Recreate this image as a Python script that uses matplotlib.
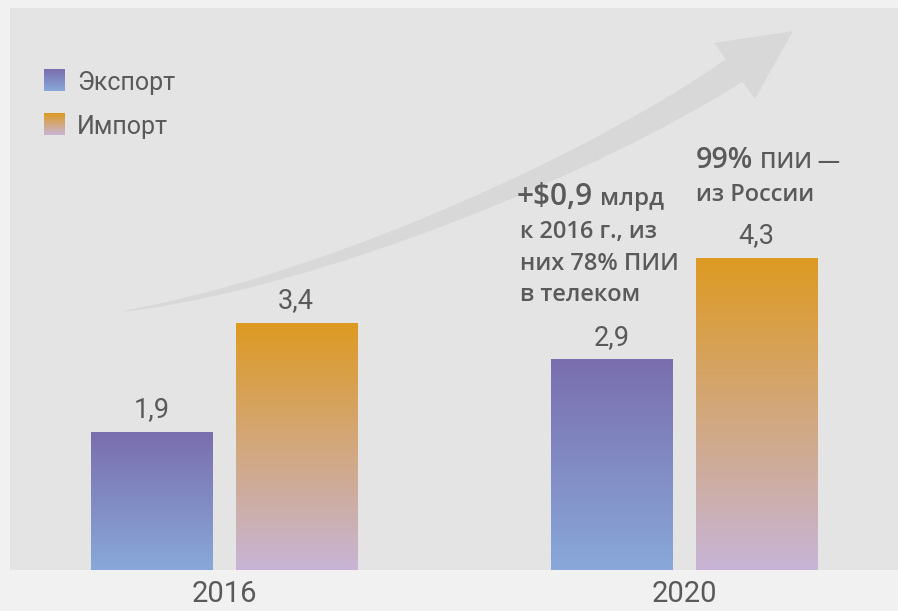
import numpy as np
import matplotlib
matplotlib.use("Agg")
import matplotlib.pyplot as plt
from matplotlib.patches import Polygon, Rectangle

# данные
years = ["2016", "2020"]
export_vals = [1.9, 2.9]
import_vals = [3.4, 4.3]
export_labels = ["1,9", "2,9"]
import_labels = ["3,4", "4,3"]

W, H = 898, 611
TXT = '#5a5a5a'
EXP = ('#7a6eae', '#89a8d9')   # верх, низ
IMP = ('#dd9a22', '#c7b5d7')
NOTE_FONT = ['Open Sans', 'DejaVu Sans']

plt.rcParams['font.family'] = ['Roboto', 'DejaVu Sans']


def grad(top, bottom, n=256):
    c1 = np.array(matplotlib.colors.to_rgb(top))
    c2 = np.array(matplotlib.colors.to_rgb(bottom))
    s = np.linspace(0, 1, n)[:, None]
    return (c1 * (1 - s) + c2 * s)[:, None, :]


fig = plt.figure(figsize=(W / 100, H / 100), dpi=100, facecolor='#f1f1f1')

# фон и декор в пикселях
bg = fig.add_axes([0, 0, 1, 1], zorder=0)
bg.axis('off')
bg.add_patch(Rectangle((10, 8), W - 10, 562, color='#e4e4e4', lw=0, zorder=0))

# изогнутая стрелка
t = np.linspace(0, 1, 200)
P = np.array([[125, 311], [330, 280], [600, 160], [735, 70]], dtype=float)
curve = (((1 - t) ** 3)[:, None] * P[0] + (3 * (1 - t) ** 2 * t)[:, None] * P[1]
         + (3 * (1 - t) * t ** 2)[:, None] * P[2] + (t ** 3)[:, None] * P[3])
d = np.gradient(curve, axis=0)
nrm = np.stack([-d[:, 1], d[:, 0]], axis=1)
nrm /= np.linalg.norm(nrm, axis=1)[:, None]
hw = 0.5 + 13.5 * t ** 0.9
body = np.vstack([curve + nrm * hw[:, None], (curve - nrm * hw[:, None])[::-1]])
arrow_col = '#d8d8d8'
bg.add_patch(Polygon(body, closed=True, color=arrow_col, lw=0, zorder=1))
bg.add_patch(Polygon([[793, 31], [714, 43], [755, 99]], closed=True, color=arrow_col, lw=0, zorder=1))

# легенда
for (name, cols), yy in zip([("Экспорт", EXP), ("Импорт", IMP)], [69, 113]):
    bg.imshow(grad(*cols), extent=[44, 65, yy + 22, yy], aspect='auto', origin='upper', zorder=2)
    bg.text(77, yy + 21, name, fontsize=18, color=TXT, va='baseline')
bg.set_xlim(0, W)
bg.set_ylim(H, 0)

# основной график
ax = fig.add_axes([10 / W, 41 / H, 888 / W, 562 / H], zorder=1)
ax.set_facecolor('none')
x = np.arange(len(years))
bw, off = 0.263, 0.157
bars_e = ax.bar(x - off, export_vals, bw, color='none')
bars_i = ax.bar(x + off, import_vals, bw, color='none')

for rects, cols, labels in [(bars_e, EXP, export_labels), (bars_i, IMP, import_labels)]:
    for r, lbl in zip(rects, labels):
        x0, h, w = r.get_x(), r.get_height(), r.get_width()
        ax.imshow(grad(*cols), extent=[x0, x0 + w, 0, h], aspect='auto', origin='upper', zorder=2)
        ax.annotate(lbl, (x0 + w / 2, h), xytext=(0, 11), textcoords='offset points',
                    ha='center', va='baseline', fontsize=19.5, color=TXT)

ax.set_xlim(-0.465, 1.465)
ax.set_ylim(0, 7.76)
ax.set_xticks(x, years)
ax.set_yticks([])
ax.tick_params(length=0, pad=7, labelsize=21, labelcolor=TXT)
for s in ax.spines.values():
    s.set_visible(False)

# подписи-пояснения
fig.canvas.draw()
rend = fig.canvas.get_renderer()


def note(xx, y, txt, size):
    return bg.text(xx, y, txt, fontsize=size, family=NOTE_FONT, fontweight='semibold',
                   color=TXT, va='baseline')


def after(prev, txt, y, size):
    bb = prev.get_window_extent(rend)
    xx = bg.transData.inverted().transform((bb.x1, 0))[0] + 7
    return note(xx, y, txt, size)


t1 = note(517, 205, "+$0,9", 21.5)
after(t1, "млрд", 205, 17.5)
for line, yy in zip(["к 2016 г., из", "них 78% ПИИ", "в телеком"], [238, 270, 301]):
    note(520, yy, line, 17)

t2 = note(696, 168, "99%", 20.5)
after(t2, "ПИИ —", 168, 16)
note(696, 201, "из России", 17)

fig.savefig("out.png", dpi=100, facecolor=fig.get_facecolor())
